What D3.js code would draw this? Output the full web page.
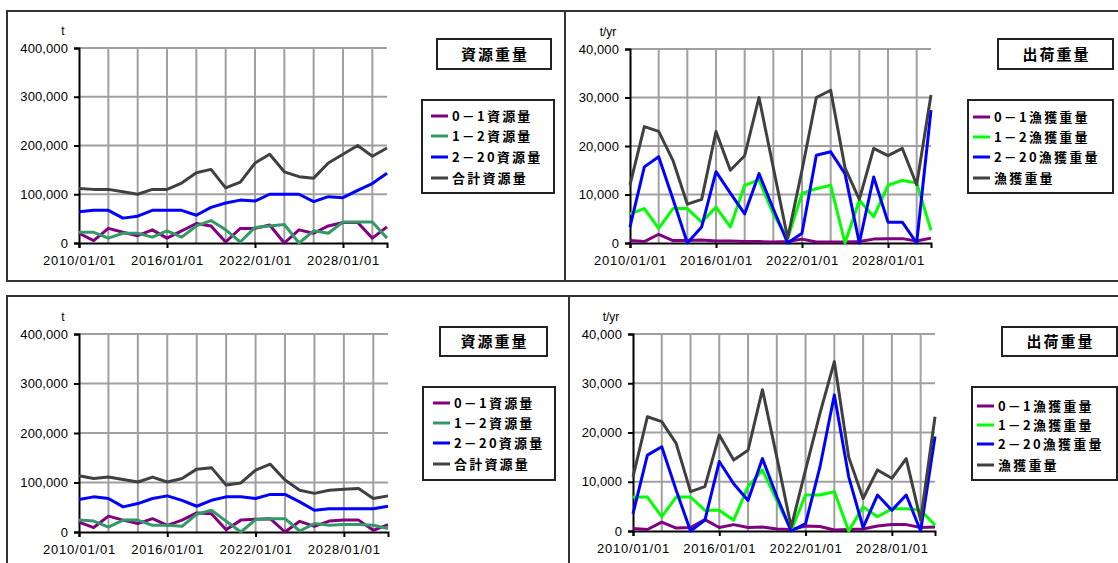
<!DOCTYPE html>
<html>
<head>
<meta charset="utf-8">
<script src="https://cdn.jsdelivr.net/npm/d3@7"></script>
<style>
  html, body { margin: 0; padding: 0; background: #fff; }
  svg { display: block; }
  text { font-family: "Liberation Sans", "DejaVu Sans", sans-serif; }
  .jp { font-family: "Noto Sans CJK JP", sans-serif; font-weight: 700; }
</style>
</head>
<body>
<svg id="chart" width="1118" height="563"></svg>
<script>
// Simulation years (one point per year)
const years = d3.range(2010, 2032);
const xTickYears = [2010, 2016, 2022, 2028];
const xTickLabels = ["2010/01/01", "2016/01/01", "2022/01/01", "2028/01/01"];
const stockTicks = [0, 100000, 200000, 300000, 400000];
const catchTicks = [0, 10000, 20000, 30000, 40000];

// Scenario 1 – stock weight (t)
const s1Age01   = [20000, 5000, 30000, 22000, 15000, 27000, 10000, 25000, 40000, 35000, 2000, 30000, 30000, 37000, 0, 27000, 20000, 35000, 42000, 42000, 10000, 33000];
const s1Age12   = [22000, 22000, 10000, 20000, 20000, 12000, 25000, 12000, 35000, 46000, 27000, 2000, 32000, 35000, 38000, 0, 25000, 20000, 43000, 43000, 43000, 10000];
const s1Age220  = [64000, 67000, 67000, 51000, 55000, 67000, 67000, 67000, 57000, 73000, 82000, 88000, 86000, 100000, 100000, 100000, 85000, 95000, 93000, 108000, 122000, 143000];
const s1Total   = [112000, 110000, 110000, 105000, 100000, 110000, 110000, 123000, 144000, 151000, 113000, 125000, 164000, 182000, 146000, 136000, 133000, 164000, 182000, 200000, 178000, 195000];

// Scenario 1 – catch weight (t/yr)
const c1Age01   = [500, 300, 1800, 500, 500, 600, 400, 400, 300, 300, 200, 300, 800, 200, 200, 200, 300, 800, 900, 900, 400, 1000];
const c1Age12   = [6000, 7100, 3000, 7100, 7100, 4300, 7400, 3300, 11900, 13000, 6000, 900, 10200, 11200, 11900, 0, 8800, 5400, 11900, 12900, 12400, 2600];
const c1Age220  = [3300, 15700, 17800, 9000, 0, 3300, 14700, 10300, 6000, 14300, 7000, 0, 2000, 18100, 18800, 14300, 0, 13600, 4300, 4300, 0, 27400];
const c1Total   = [12000, 24000, 23000, 17000, 8000, 9000, 23000, 15000, 18000, 30000, 15500, 1000, 15000, 30000, 31500, 15500, 9000, 19500, 18000, 19500, 12000, 30500];

// Scenario 2 – stock weight (t)
const s2Age01   = [20000, 9000, 32000, 24000, 17000, 27000, 13500, 24000, 38500, 37000, 4700, 24000, 26000, 27000, 0, 21600, 11500, 22000, 24000, 24000, 3400, 15000];
const s2Age12   = [24000, 22000, 10000, 24000, 24000, 13500, 13500, 11500, 36000, 44000, 22000, 0, 25000, 27000, 27000, 2000, 17000, 13500, 15000, 15000, 13500, 7000];
const s2Age220  = [65500, 71000, 67600, 50700, 57400, 67600, 73000, 64000, 52000, 64000, 71000, 71000, 67600, 76000, 76000, 60800, 44000, 47000, 47000, 47000, 47000, 52000];
const s2Total   = [113500, 108000, 111000, 106000, 101000, 111000, 101000, 108000, 127000, 130000, 95000, 99000, 125000, 137000, 105000, 84500, 78000, 84500, 86500, 88000, 67600, 73000];

// Scenario 2 – catch weight (t/yr)
const c2Age01   = [500, 300, 1800, 600, 700, 2300, 700, 1300, 700, 800, 400, 300, 1000, 900, 200, 300, 400, 1000, 1300, 1300, 700, 800];
const c2Age12   = [6900, 6900, 2900, 6900, 6900, 4200, 4200, 2200, 9000, 12400, 6200, 100, 7300, 7300, 8000, 0, 4900, 2900, 4500, 4500, 4200, 1200];
const c2Age220  = [3500, 15400, 17100, 8300, 0, 2200, 14100, 9600, 6200, 14700, 7000, 0, 1500, 13000, 27600, 11000, 700, 7300, 4200, 7300, 0, 19200];
const c2Total   = [11000, 23200, 22200, 17800, 8000, 9000, 19500, 14400, 16400, 28700, 15000, 800, 12400, 23900, 34400, 15000, 6600, 12400, 10700, 14700, 2200, 23200];

// Titles and legend labels
const stockTitle = "資源重量";
const catchTitle = "出荷重量";
const stockLegend = ["0－1資源量", "1－2資源量", "2－20資源量", "合計資源量"];
const catchLegend = ["0－1漁獲重量", "1－2漁獲重量", "2－20漁獲重量", "漁獲重量"];

const svg = d3.select("#chart");

// Panel frames and chart geometry
const panels = [
  { frame: [7, 11, 558, 270], plot: { x0: 79, x1: 387, y0: 243, y1: 48 }, max: 400000, ticks: stockTicks,
    unit: "t", unitDx: -16, title: stockTitle, titleBox: [437, 39, 114, 30], legendBox: [422, 100, 132, 93], legendRows: [116, 136, 157, 178],
    legendX: 431, labels: stockLegend, colors: ["#800080", "#339966", "#0000ff", "#404040"],
    series: [s1Age01, s1Age12, s1Age220, s1Total] },
  { frame: [565, 11, 570, 270], plot: { x0: 630, x1: 931, y0: 243, y1: 49 }, max: 40000, ticks: catchTicks,
    unit: "t/yr", unitDx: -22, title: catchTitle, titleBox: [998, 39, 115, 30], legendBox: [968, 100, 145, 93], legendRows: [117, 137, 157, 178],
    legendX: 973, labels: catchLegend, colors: ["#800080", "#00ff00", "#0000ff", "#404040"],
    series: [c1Age01, c1Age12, c1Age220, c1Total] },
  { frame: [7, 296, 562, 280], plot: { x0: 79, x1: 388, y0: 532, y1: 334 }, max: 400000, ticks: stockTicks,
    unit: "t", unitDx: -16, title: stockTitle, titleBox: [440, 327, 107, 29], legendBox: [423, 387, 132, 93], legendRows: [403, 423, 443, 464],
    legendX: 433, labels: stockLegend, colors: ["#800080", "#339966", "#0000ff", "#404040"],
    series: [s2Age01, s2Age12, s2Age220, s2Total] },
  { frame: [569, 296, 570, 280], plot: { x0: 633, x1: 935, y0: 531, y1: 334 }, max: 40000, ticks: catchTicks,
    unit: "t/yr", unitDx: -22, title: catchTitle, titleBox: [1002, 327, 115, 29], legendBox: [972, 387, 145, 93], legendRows: [406, 425, 444, 465],
    legendX: 977, labels: catchLegend, colors: ["#800080", "#00ff00", "#0000ff", "#404040"],
    series: [c2Age01, c2Age12, c2Age220, c2Total] }
];

panels.forEach(p => {
  const g = svg.append("g");
  const { x0, x1, y0, y1 } = p.plot;

  g.append("rect")
    .attr("x", p.frame[0]).attr("y", p.frame[1])
    .attr("width", p.frame[2]).attr("height", p.frame[3])
    .attr("fill", "none").attr("stroke", "#333").attr("stroke-width", 2);

  const x = d3.scaleLinear().domain([2010, 2031]).range([x0, x1]);
  const y = d3.scaleLinear().domain([0, p.max]).range([y0, y1]);

  // Grid
  const grid = g.append("g").attr("stroke", "#a0a0a0").attr("stroke-width", 2);
  grid.selectAll(".h").data(p.ticks.slice(1)).join("line")
    .attr("x1", x0).attr("x2", x1).attr("y1", d => y(d)).attr("y2", d => y(d));
  grid.selectAll(".v").data(d3.range(2012, 2031, 2)).join("line")
    .attr("x1", d => x(d)).attr("x2", d => x(d)).attr("y1", y1).attr("y2", y0);

  // Y axis
  const yAxis = g.append("g").attr("transform", `translate(${x0},0)`)
    .call(d3.axisLeft(y).tickValues(p.ticks).tickFormat(d3.format(",")).tickSize(5).tickPadding(6));
  yAxis.select(".domain").attr("stroke", "#000").attr("stroke-width", 2);
  yAxis.selectAll(".tick line").attr("stroke", "#000").attr("stroke-width", 2);
  yAxis.selectAll(".tick text").attr("font-size", 13).attr("fill", "#000")
    .attr("font-family", "Liberation Sans, sans-serif").attr("letter-spacing", "0.1");

  // X axis
  const xAxis = g.append("g").attr("transform", `translate(0,${y0})`)
    .call(d3.axisBottom(x).tickValues(xTickYears).tickFormat((d, i) => xTickLabels[i]).tickSize(5).tickPadding(8));
  xAxis.select(".domain").attr("stroke", "#000").attr("stroke-width", 2);
  xAxis.selectAll(".tick line").attr("stroke", "#000").attr("stroke-width", 2);
  xAxis.selectAll(".tick text").attr("font-size", 13).attr("fill", "#000")
    .attr("font-family", "Liberation Sans, sans-serif").attr("letter-spacing", "0.8");

  // Unit label
  g.append("text").attr("x", x0 + p.unitDx).attr("y", y1 - 13)
    .attr("text-anchor", "middle").attr("font-size", 12).text(p.unit);

  // Series
  const line = d3.line().x((d, i) => x(years[i])).y(d => y(d));
  p.series.forEach((s, i) => {
    g.append("path").datum(s).attr("d", line)
      .attr("fill", "none").attr("stroke", p.colors[i]).attr("stroke-width", 3)
      .attr("stroke-linejoin", "round");
  });

  // Title box
  const [tx, ty, tw, th] = p.titleBox;
  g.append("rect").attr("x", tx).attr("y", ty).attr("width", tw).attr("height", th)
    .attr("fill", "#fff").attr("stroke", "#222").attr("stroke-width", 2);
  g.append("text").attr("class", "jp").attr("x", tx + tw / 2 + 1).attr("y", ty + th / 2 + 5.5)
    .attr("text-anchor", "middle").attr("font-size", 15).attr("letter-spacing", 2).text(p.title);

  // Legend
  const [lx, ly, lw, lh] = p.legendBox;
  g.append("rect").attr("x", lx).attr("y", ly).attr("width", lw).attr("height", lh)
    .attr("fill", "#fff").attr("stroke", "#222").attr("stroke-width", 2);
  p.labels.forEach((lab, i) => {
    const ry = p.legendRows[i];
    g.append("line").attr("x1", p.legendX).attr("x2", p.legendX + 17)
      .attr("y1", ry).attr("y2", ry).attr("stroke", p.colors[i]).attr("stroke-width", 3);
    g.append("text").attr("class", "jp").attr("x", p.legendX + 21).attr("y", ry + 5)
      .attr("font-size", 13).attr("letter-spacing", 2.2).text(lab);
  });
});
</script>
</body>
</html>
